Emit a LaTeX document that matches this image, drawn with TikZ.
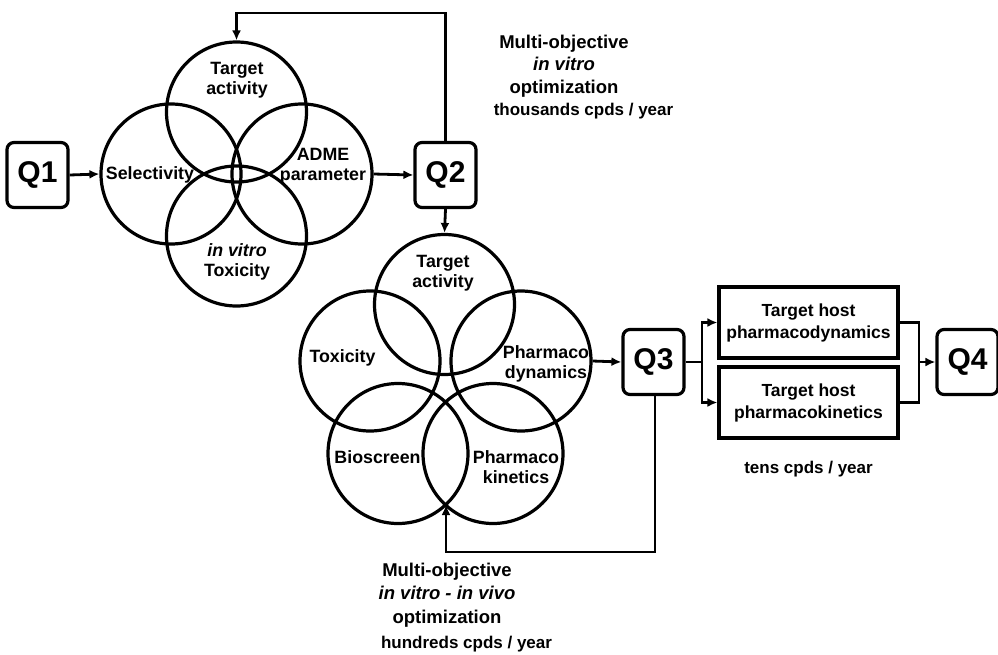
\documentclass[tikz,border=0pt]{standalone}
\usepackage{fontspec}
\setmainfont{Liberation Sans}
\usetikzlibrary{arrows.meta,calc}
\begin{document}
\begin{tikzpicture}[x=1pt,y=-1pt,
  venn/.style={circle,draw,line width=3.2pt,minimum size=140pt,inner sep=0pt},
  qbox/.style={draw,line width=3.2pt,rounded corners=7pt,minimum width=61pt,minimum height=65pt,inner sep=0pt,font=\fontsize{30}{32}\selectfont\bfseries},
  hostbox/.style={draw,line width=3.2pt,minimum width=179pt,minimum height=71pt,inner sep=0pt},
  lab/.style={font=\fontsize{17.8}{20.5}\selectfont\bfseries,align=center,inner sep=0pt},
  small/.style={font=\fontsize{17}{20}\selectfont\bfseries},
  conn/.style={line width=2.8pt},
  arr/.style={conn,-{Latex[length=10pt,width=9pt]}},
]
\useasboundingbox (0,0) rectangle (998,654);

% Q boxes
\node[qbox] (Q1) at (37.5,175) {Q1};
\node[qbox] (Q2) at (445.5,175) {Q2};
\node[qbox] (Q3) at (653.5,362) {Q3};
\node[qbox] (Q4) at (967.5,362) {Q4};

% first Venn
\node[venn] (aT) at (236.5,112) {};
\node[venn] (aL) at (171,174) {};
\node[venn] (aR) at (302,174) {};
\node[venn] (aB) at (236.5,236) {};
\node[lab] (taT) at (237,80) {Target\\activity};
\node[lab] (taL) at (150,175) {Selectivity};
\node[lab] (taR) at (323,166) {ADME\\parameter};
\node[lab] (taB) at (237,262) {\itshape in vitro\\Toxicity};

% second Venn
\node[venn] (bT) at (444.5,304.5) {};
\node[venn] (bL) at (370,361) {};
\node[venn] (bR) at (521,361) {};
\node[venn] (bBL) at (398,453.5) {};
\node[venn] (bBR) at (493,453.5) {};
\node[lab] (tbT) at (443,273) {Target\\activity};
\node[lab] (tbL) at (342.5,358) {Toxicity};
\node[lab] (tbR) at (546,364) {Pharmaco\\dynamics};
\node[lab] (tbBL) at (377.5,457) {Bioscreen};
\node[lab] (tbBR) at (516,467) {Pharmaco\\kinetics};

% host boxes
\node[hostbox,lab,font=\fontsize{17.5}{22}\selectfont\bfseries] (H1) at (808.5,322.5) {Target host\\pharmacodynamics};
\node[hostbox,lab,font=\fontsize{17.5}{22}\selectfont\bfseries] (H2) at (808.5,402.5) {Target host\\pharmacokinetics};

% texts
\node[lab,font=\fontsize{18.5}{22.5}\selectfont\bfseries] (m1) at (564,66) {Multi-objective\\\itshape in vitro\\optimization};
\node[lab,small] (m1b) at (583.5,111) {thousands cpds / year};
\node[lab,font=\fontsize{18.5}{23.5}\selectfont\bfseries] (m2) at (447,595) {Multi-objective\\\itshape in vitro - in vivo\\optimization};
\node[lab,small] (m2b) at (466.5,644) {hundreds cpds / year};
\node[lab,small] (tens) at (808.5,469) {tens cpds / year};

% connectors
\draw[arr] (Q1.east) -- (aL.west);
\draw[arr] (aR.east) -- (Q2.west);
\coordinate (fb1) at (236.5,13);
\draw[arr] (Q2.north) |- (fb1) -- (aT.north);
\draw[arr] (Q2.south) -- (bT.north);
\draw[arr] (bR.east) -- (Q3.west);
\coordinate (fb2) at (446,552);
\coordinate (ix) at (446,505);
\draw[arr] ([xshift=1.5pt]Q3.south) |- (fb2) -- (ix);
\coordinate (sp) at (702,362);
\draw[conn] (Q3.east) -- (sp);
\draw[arr] (sp) |- (H1.west);
\draw[arr] (sp) |- (H2.west);
\coordinate (jn) at (919,362);
\draw[conn] (H1.east) -| (jn) |- (H2.east);
\draw[arr] (jn) -- (Q4.west);
\end{tikzpicture}
\end{document}
